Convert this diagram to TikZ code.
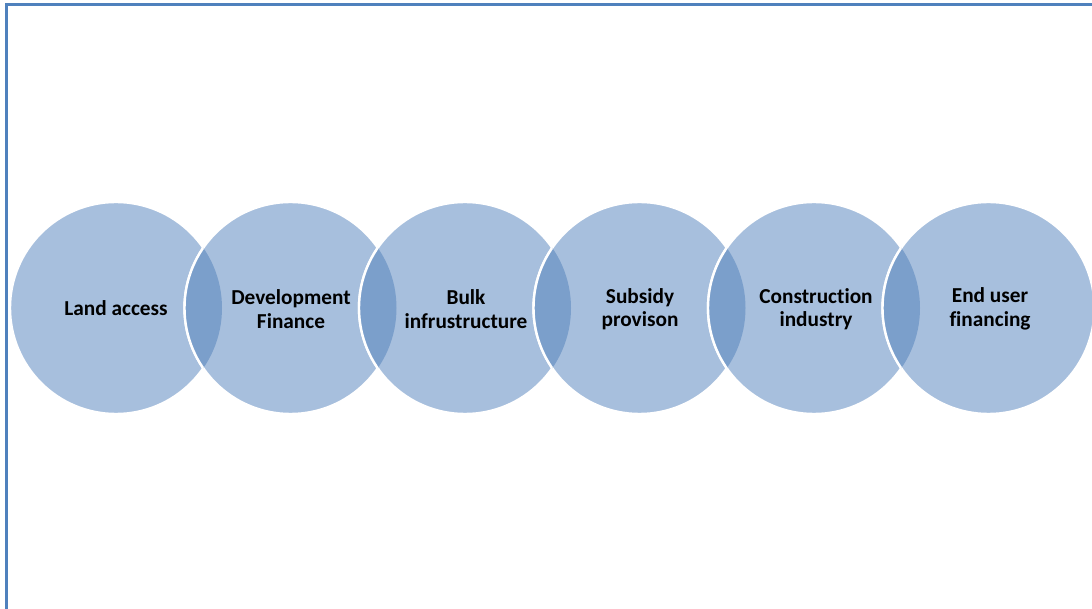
\documentclass[tikz,border=0pt]{standalone}
\usepackage{fontspec}
\setmainfont{Carlito}[Ligatures=NoCommon]
\begin{document}
\begin{tikzpicture}[x=1pt,y=-1pt,
  disc/.style={fill=discfill},
  rim/.style={draw=white,line width=2.4pt},
  lens/.style={fill=lensfill},
  label/.style={align=center,font=\bfseries\fontsize{21.3}{23.5}\selectfont,text=black,inner sep=0pt}]
\definecolor{discfill}{HTML}{A7BFDD}
\definecolor{lensfill}{HTML}{7B9FCB}
\definecolor{framecol}{HTML}{4F81BD}
\useasboundingbox (0,0) rectangle (1092,609);
% outer frame (only top and left edges fall inside the page)
\draw[framecol,line width=2.6pt] (6.2,620) -- (6.2,4.5) -- (1100,4.5);
% chain of overlapping discs
\def\rad{106}
\foreach \i/\x in {1/116,2/290.5,3/465,4/639.5,5/814,6/988.5}{
  \coordinate (c\i) at (\x,308);
}
\foreach \i/\p in {1/0,2/1,3/2,4/3,5/4,6/5}{
  \fill[disc] (c\i) circle (\rad);
  \draw[rim] (c\i) circle (\rad);
  \ifnum\i>1
    \begin{scope}
      \clip (c\p) circle (\rad);
      \fill[lens] (c\i) circle (\rad);
      \draw[rim] (c\i) circle (\rad);
    \end{scope}
  \fi
}
\node[label] (t1) at (116,308) {Land access};
\node[label] (t2) at (291,309) {Development\\Finance};
\node[label] (t3) at (466,309) {Bulk\\infrustructure};
\node[label] (t4) at (640,309) {Subsidy\\provison};
\node[label] (t5) at (816,309) {Construction\\industry};
\node[label] (t6) at (990,309) {End user\\financing};
\end{tikzpicture}
\end{document}
